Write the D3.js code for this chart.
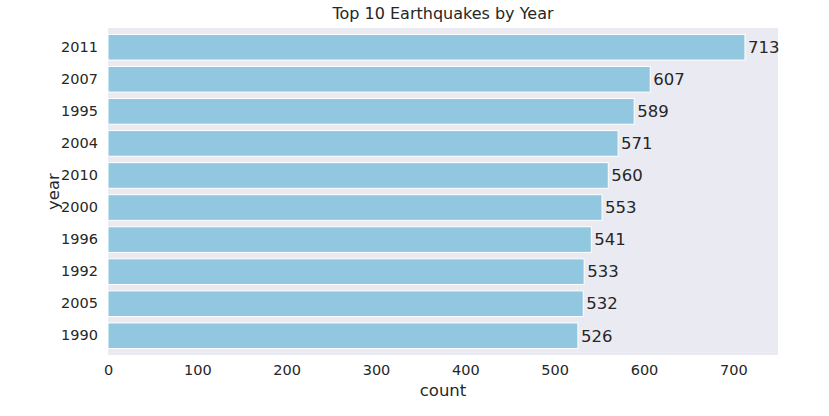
<!DOCTYPE html>
<html><head><meta charset="utf-8">
<script src="https://cdn.jsdelivr.net/npm/d3@7"></script>
<style>body{margin:0;background:#fff}text{font-family:"DejaVu Sans",sans-serif;fill:#262626}</style>
</head><body><svg id="c" width="829" height="416"></svg>
<script>
const years=["2011","2007","1995","2004","2010","2000","1996","1992","2005","1990"];
const counts=[713,607,589,571,560,553,541,533,532,526];
const xTicks=[0,100,200,300,400,500,600,700];
const svg=d3.select("#c");
const L=108,R=778,T=28,B=355;
const x=d3.scaleLinear().domain([0,750]).range([L,R]);
const y=d3.scaleBand().domain(years).range([T,B]).padding(0.2);
svg.append("rect").attr("x",L).attr("y",T).attr("width",R-L).attr("height",B-T).attr("fill","#EAEAF2");
svg.selectAll(".bar").data(years).join("rect").attr("x",x(0)).attr("y",d=>y(d))
 .attr("width",(d,i)=>x(counts[i])-x(0)).attr("height",y.bandwidth())
 .attr("fill","#91c8df").attr("stroke","#fff").attr("stroke-width",1);
svg.selectAll(".lab").data(years).join("text").attr("x",(d,i)=>x(counts[i])+3).attr("y",d=>y(d)+y.bandwidth()/2)
 .attr("dy","0.35em").attr("font-size",16.5).text((d,i)=>counts[i]);
const xa=svg.append("g").attr("transform",`translate(0,${B})`).call(d3.axisBottom(x).tickValues(xTicks).tickSize(0).tickPadding(10));
const ya=svg.append("g").attr("transform",`translate(${L},0)`).call(d3.axisLeft(y).tickSize(0).tickPadding(10));
[xa,ya].forEach(a=>{a.select(".domain").remove();a.selectAll("text").attr("font-size",14.5).attr("font-family","DejaVu Sans").attr("fill","#262626");});
svg.append("text").attr("x",(L+R)/2).attr("y",19).attr("text-anchor","middle").attr("font-size",16).text("Top 10 Earthquakes by Year");
svg.append("text").attr("x",(L+R)/2).attr("y",396).attr("text-anchor","middle").attr("font-size",16.5).text("count");
svg.append("text").attr("transform",`translate(59,${(T+B)/2}) rotate(-90)`).attr("text-anchor","middle").attr("font-size",16.5).text("year");
</script></body></html>
